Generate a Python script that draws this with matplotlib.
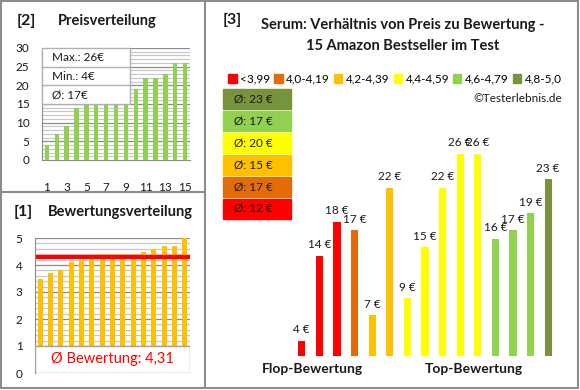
import matplotlib.pyplot as plt
from matplotlib.patches import Rectangle, Patch

plt.rcParams['font.family'] = ['Lato', 'DejaVu Sans']

# [2] price distribution
preise_sortiert = [4, 7, 9, 14, 15, 15, 15, 15, 15, 19, 22, 22, 23, 26, 26]
preis_info = ['Max.: 26€', 'Min.: 4€', 'Ø: 17€']

# [1] rating distribution
bewertungen = [3.5, 3.7, 3.8, 4.1, 4.2, 4.3, 4.4, 4.4, 4.4, 4.4, 4.5, 4.6, 4.7, 4.7, 5.0]
bewertung_mittel = 4.31

# [3] price vs rating
preise = [4, 14, 18, 17, 7, 22, 9, 15, 22, 26, 26, 16, 17, 19, 23]
gruppen = [0, 0, 0, 1, 2, 2, 3, 3, 3, 3, 3, 4, 4, 4, 5]
gruppen_farben = ['#FF0000', '#E36C09', '#FFC000', '#FFFF00', '#92D050', '#77933C']
gruppen_namen = ['<3,99', '4,0-4,19', '4,2-4,39', '4,4-4,59', '4,6-4,79', '4,8-5,0']
gruppen_mittel = [12, 17, 15, 20, 17, 23]

W, H = 580, 390
fig = plt.figure(figsize=(W / 100, H / 100), dpi=100)


def px(x0, y0, x1, y1):
    return [x0 / W, 1 - y1 / H, (x1 - x0) / W, (y1 - y0) / H]


txt = '#1a1a1a'
grid_hell = '#c8c8c8'
grid_dunkel = '#8c8c8c'

# overlay for frames, boxes and titles (pixel coords)
ov = fig.add_axes([0, 0, 1, 1], zorder=5)
ov.set_xlim(0, W)
ov.set_ylim(H, 0)
ov.axis('off')
ov.add_patch(Rectangle((1, 1), 577, 387, fill=False, ec='#8c8c8c', lw=1.5))
ov.plot([205, 205], [1, 388], color='#8c8c8c', lw=1.5)
ov.plot([1, 205], [192, 192], color='#8c8c8c', lw=1.5)

ov.text(17, 21, '[2]', fontsize=11.5, fontweight='bold', va='center', color=txt)
ov.text(58, 21, 'Preisverteilung', fontsize=10.5, fontweight='bold', va='center', color=txt)
ov.text(14, 212, '[1]', fontsize=11.5, fontweight='bold', va='center', color=txt)
ov.text(48, 212, 'Bewertungsverteilung', fontsize=10.5, fontweight='bold', va='center', color=txt)
ov.text(223, 20, '[3]', fontsize=11.5, fontweight='bold', va='center', color=txt)
ov.text(403, 25, 'Serum: Verhältnis von Preis zu Bewertung -', fontsize=10.5,
        fontweight='bold', ha='center', va='center', color=txt)
ov.text(403, 46, '15 Amazon Bestseller im Test', fontsize=10.5,
        fontweight='bold', ha='center', va='center', color=txt)
ov.text(562, 98, '©Testerlebnis.de', fontsize=8.5, ha='right', va='center', color=txt)
ov.text(312, 369, 'Flop-Bewertung', fontsize=10, fontweight='bold', ha='center', va='center', color=txt)
ov.text(474, 369, 'Top-Bewertung', fontsize=10, fontweight='bold', ha='center', va='center', color=txt)

# average boxes, top row is the best group
for i, g in enumerate(reversed(range(len(gruppen_mittel)))):
    y = 89 + i * 21.9
    ov.add_patch(Rectangle((223, y), 68, 20, color=gruppen_farben[g]))
    ov.text(234, y + 10, 'Ø: %d €' % gruppen_mittel[g], fontsize=8.5, va='center', color=txt)

# legend
ov.legend(handles=[Patch(color=c, label=n) for c, n in zip(gruppen_farben, gruppen_namen)],
          ncol=6, loc='center', bbox_to_anchor=(395 / W, 1 - 79 / H), frameon=False,
          fontsize=8.5, handlelength=0.7, handleheight=0.7, handletextpad=0.3,
          columnspacing=0.35, borderpad=0)

# ---- [2] Preisverteilung
ax2 = fig.add_axes(px(42, 48, 190, 160))
x = list(range(1, len(preise_sortiert) + 1))
ax2.bar(x, preise_sortiert, width=0.45, color='#92D050', zorder=3)
ax2.set_xlim(0.5, 15.5)
ax2.set_ylim(0, 30)
for v in range(1, 31):
    ax2.axhline(v, color=grid_dunkel if v % 5 == 0 else grid_hell, lw=0.9, zorder=1)
ax2.set_yticks(range(0, 31, 5))
ax2.set_xticks(range(1, 16, 2))
ax2.tick_params(length=0, labelsize=8.5, labelcolor=txt)
ax2.tick_params(axis='x', pad=16)
ax2.tick_params(axis='y', pad=9)
for s in ['top', 'right']:
    ax2.spines[s].set_visible(False)
for s in ['left', 'bottom']:
    ax2.spines[s].set_color(grid_dunkel)
ax2.patch.set_alpha(0)

ov.add_patch(Rectangle((42, 48), 88, 56, fc='white', ec='#b0b0b0', lw=1))
for i, t in enumerate(preis_info):
    y0 = 48 + i * 18.7
    if i > 0:
        ov.plot([42, 130], [y0, y0], color='#b0b0b0', lw=1)
    ov.text(52, y0 + 9.5, t, fontsize=8.5, va='center', color=txt)

# ---- [1] Bewertungsverteilung
ax1 = fig.add_axes(px(35, 238, 190, 373))
x = list(range(1, len(bewertungen) + 1))
ax1.bar(x, bewertungen, width=0.5, color='#FFC000', zorder=3)
ax1.set_xlim(0.5, 15.5)
ax1.set_ylim(0, 5)
for k in range(1, 26):
    v = k * 0.2
    ax1.axhline(v, color=grid_dunkel if k % 5 == 0 else grid_hell, lw=0.9, zorder=1)
ax1.plot([0.8, 15.3], [bewertung_mittel, bewertung_mittel], color='#FF0000', lw=3, zorder=4)
ax1.add_patch(Rectangle((0.5, 0), 15, 1, fc='white', ec='#a0a0a0', lw=1, zorder=5))
ax1.text(8, 0.5, 'Ø Bewertung: %s' % str(bewertung_mittel).replace('.', ','),
         fontsize=10.5, color='#FF0000', ha='center', va='center', zorder=6)
ax1.set_xticks([])
ax1.set_yticks(range(0, 6))
ax1.tick_params(length=0, labelsize=8.5, labelcolor=txt, pad=9)
for s in ['top', 'right', 'bottom']:
    ax1.spines[s].set_visible(False)
ax1.spines['left'].set_color(grid_dunkel)
ax1.patch.set_alpha(0)

# ---- [3] Preis zu Bewertung
ax3 = fig.add_axes(px(293, 120, 557, 356))
x = list(range(1, len(preise) + 1))
ax3.bar(x, preise, width=0.4, color=[gruppen_farben[g] for g in gruppen])
for xi, p in zip(x, preise):
    ax3.annotate('%d €' % p, (xi, p), xytext=(0, 4), textcoords='offset points',
                 ha='center', va='bottom', fontsize=8.5, color=txt)
ax3.set_xlim(0.5, 15.5)
ax3.set_ylim(2.2, 30)
ax3.axis('off')

fig.savefig('out.png', dpi=100)
